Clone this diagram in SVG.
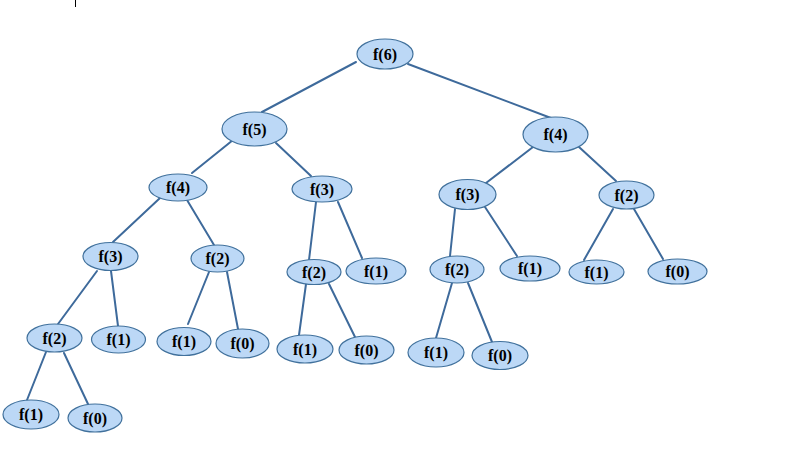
<svg xmlns="http://www.w3.org/2000/svg" width="785" height="449" viewBox="0 0 785 449">
<style>
.n ellipse{fill:#bcd8f6;stroke:#41719c;stroke-width:1.2}
.n text{font-family:"Liberation Serif",serif;font-weight:bold;font-size:16px;fill:#000;text-anchor:middle;dominant-baseline:central}
#edges line{stroke:#3e6a9b;stroke-width:2;stroke-linecap:round}
</style>
<rect width="785" height="449" fill="#fff"/>
<line x1="75.5" y1="0" x2="75.5" y2="7" stroke="#000" stroke-width="1"/>
<g id="edges">
<line x1="356" y1="62" x2="262" y2="112"/>
<line x1="408" y1="64" x2="551" y2="118"/>
<line x1="233" y1="140" x2="192" y2="173"/>
<line x1="276" y1="143" x2="311" y2="176"/>
<line x1="533" y1="147" x2="486" y2="183"/>
<line x1="579" y1="147" x2="616" y2="181"/>
<line x1="160" y1="198" x2="113" y2="242"/>
<line x1="187" y1="200" x2="214" y2="245"/>
<line x1="316" y1="202" x2="309" y2="260"/>
<line x1="338" y1="202" x2="362" y2="258"/>
<line x1="455" y1="209" x2="450" y2="256"/>
<line x1="485" y1="207" x2="517" y2="256"/>
<line x1="613" y1="209" x2="584" y2="260"/>
<line x1="634" y1="209" x2="663" y2="259"/>
<line x1="97" y1="271" x2="58" y2="324"/>
<line x1="111" y1="271" x2="118" y2="326"/>
<line x1="209" y1="272" x2="188" y2="324"/>
<line x1="227" y1="272" x2="238" y2="329"/>
<line x1="306" y1="284" x2="299" y2="335"/>
<line x1="329" y1="284" x2="355" y2="337"/>
<line x1="452" y1="283" x2="436" y2="338"/>
<line x1="468" y1="283" x2="492" y2="342"/>
<line x1="46" y1="352" x2="27" y2="400"/>
<line x1="64" y1="353" x2="88" y2="404"/>
</g>
<g id="n6" class="n"><ellipse cx="385" cy="54" rx="28" ry="15"/><text x="385" y="54">f(6)</text></g>
<g id="n5" class="n"><ellipse cx="254.5" cy="129" rx="32.5" ry="17"/><text x="254.5" y="129">f(5)</text></g>
<g id="n4r" class="n"><ellipse cx="555.5" cy="134.5" rx="32.5" ry="17.5"/><text x="555.5" y="134.5">f(4)</text></g>
<g id="n4l" class="n"><ellipse cx="178" cy="187.5" rx="29" ry="13.5"/><text x="178" y="187.5">f(4)</text></g>
<g id="n3m" class="n"><ellipse cx="322" cy="189" rx="30" ry="13"/><text x="322" y="189">f(3)</text></g>
<g id="n3r" class="n"><ellipse cx="467.5" cy="194.5" rx="28.5" ry="15"/><text x="467.5" y="194.5">f(3)</text></g>
<g id="n2rr" class="n"><ellipse cx="626.5" cy="195" rx="27.5" ry="14"/><text x="626.5" y="195">f(2)</text></g>
<g id="n3l" class="n"><ellipse cx="110.5" cy="256.5" rx="27.5" ry="14"/><text x="110.5" y="256.5">f(3)</text></g>
<g id="n2l" class="n"><ellipse cx="217.5" cy="258.5" rx="26.5" ry="13.5"/><text x="217.5" y="258.5">f(2)</text></g>
<g id="n2m" class="n"><ellipse cx="314" cy="272" rx="27" ry="12.5"/><text x="314" y="272">f(2)</text></g>
<g id="n1m" class="n"><ellipse cx="376" cy="271" rx="30" ry="13"/><text x="376" y="271">f(1)</text></g>
<g id="n2r" class="n"><ellipse cx="457" cy="269.5" rx="27" ry="13.5"/><text x="457" y="269.5">f(2)</text></g>
<g id="n1r" class="n"><ellipse cx="530" cy="268.5" rx="30" ry="12.5"/><text x="530" y="268.5">f(1)</text></g>
<g id="n1rr" class="n"><ellipse cx="596.5" cy="272" rx="27.5" ry="12"/><text x="596.5" y="272">f(1)</text></g>
<g id="n0rr" class="n"><ellipse cx="677.5" cy="271.5" rx="29.5" ry="12.5"/><text x="677.5" y="271.5">f(0)</text></g>
<g id="n2ll" class="n"><ellipse cx="54.5" cy="338" rx="27.5" ry="14"/><text x="54.5" y="338">f(2)</text></g>
<g id="n1ll" class="n"><ellipse cx="118.5" cy="339.5" rx="27" ry="13.5"/><text x="118.5" y="339.5">f(1)</text></g>
<g id="n1l" class="n"><ellipse cx="184" cy="341.5" rx="27" ry="14"/><text x="184" y="341.5">f(1)</text></g>
<g id="n0l" class="n"><ellipse cx="242.5" cy="343.5" rx="26.5" ry="14.5"/><text x="242.5" y="343.5">f(0)</text></g>
<g id="n1mb" class="n"><ellipse cx="305" cy="349" rx="28" ry="14"/><text x="305" y="349">f(1)</text></g>
<g id="n0mb" class="n"><ellipse cx="366.5" cy="350" rx="27.5" ry="14"/><text x="366.5" y="350">f(0)</text></g>
<g id="n1rb" class="n"><ellipse cx="436" cy="352.5" rx="28" ry="14.5"/><text x="436" y="352.5">f(1)</text></g>
<g id="n0rb" class="n"><ellipse cx="500" cy="355.5" rx="28" ry="14"/><text x="500" y="355.5">f(0)</text></g>
<g id="n1b" class="n"><ellipse cx="31" cy="414.5" rx="28" ry="14.5"/><text x="31" y="414.5">f(1)</text></g>
<g id="n0b" class="n"><ellipse cx="95" cy="418" rx="27" ry="14"/><text x="95" y="418">f(0)</text></g>
</svg>
